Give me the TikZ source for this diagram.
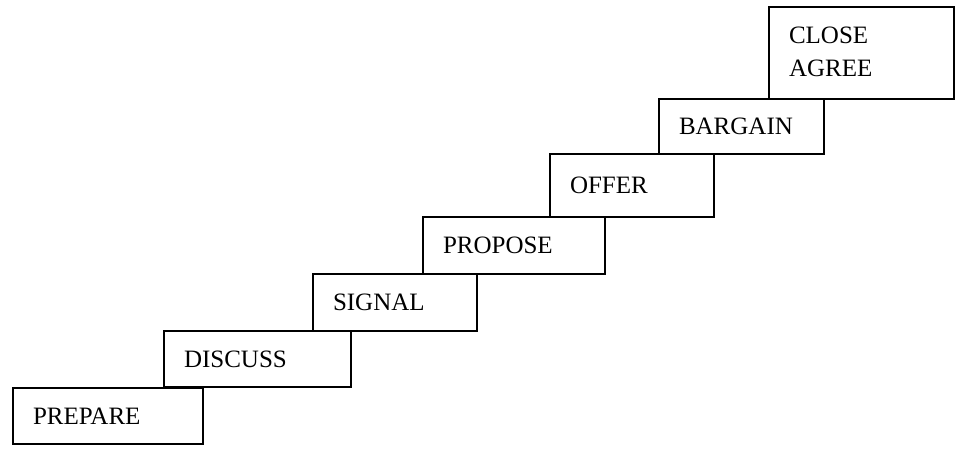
\documentclass[tikz,border=0pt]{standalone}
\usepackage{fontspec}
\setmainfont{Liberation Serif}
\begin{document}
\begin{tikzpicture}[x=1pt,y=1pt,
  stepbox/.style={draw, line width=2pt, anchor=south west, inner xsep=20pt,
    inner ysep=0pt, align=left, font=\fontsize{25}{33}\selectfont}]
\useasboundingbox (0,0) rectangle (955,448);
\node[stepbox, text width=150pt, minimum height=56pt] (prepare) at (12,3) {PREPARE};
\node[stepbox, text width=147pt, minimum height=56pt] (discuss) at (163,60) {DISCUSS};
\node[stepbox, text width=124pt, minimum height=57pt] (signal) at (312,116) {SIGNAL};
\node[stepbox, text width=142pt, minimum height=57pt] (propose) at (422,173) {PROPOSE};
\node[stepbox, text width=124pt, minimum height=63pt] (offer) at (549,230) {OFFER};
\node[stepbox, text width=125pt, minimum height=55pt] (bargain) at (658,293) {BARGAIN};
\node[stepbox, text width=145pt, minimum height=92pt] (close) at (768,348)
  {\raisebox{7pt}{\begin{tabular}{@{}l@{}}CLOSE\\AGREE\end{tabular}}};
\end{tikzpicture}
\end{document}
